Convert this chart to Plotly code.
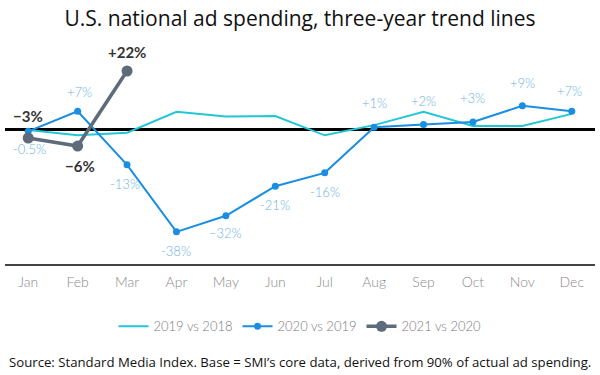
import plotly.graph_objects as go

months = ["Jan", "Feb", "Mar", "Apr", "May", "Jun", "Jul", "Aug", "Sep", "Oct", "Nov", "Dec"]
s2019 = [0, -2, -1, 6.8, 5, 5.2, -2, 1.8, 6.8, 1.5, 1.5, 6]
s2020 = [-0.5, 7, -13, -38, -32, -21, -16, 1, 2, 3, 9, 7]
s2021 = [-3, -6, 22]
labels2020 = ["-0.5%", "+7%", "-13%", "-38%", "−32%", "-21%", "-16%", "+1%", "+2%", "+3%", "+9%", "+7%"]
labels2021 = ["−3%", "−6%", "+22%"]

C19 = "#22c7d6"
C20 = "#1a8ee0"
C21 = "#5e6b7b"
LBL20 = "#6eb3e3"

fig = go.Figure()
fig.add_trace(go.Scatter(x=months, y=s2019, mode="lines", name="2019 vs 2018",
                         line=dict(color=C19, width=2)))
fig.add_trace(go.Scatter(x=months, y=s2020, mode="lines+markers", name="2020 vs 2019",
                         line=dict(color=C20, width=2), marker=dict(size=7, color=C20)))
fig.add_trace(go.Scatter(x=months[:3], y=s2021, mode="lines+markers", name="2021 vs 2020",
                         line=dict(color=C21, width=3.5), marker=dict(size=11, color=C21)))

# label offsets (dx, dy in px) for 2020 series
off20 = [(1, -18), (2, 19), (-2, -19), (0, -19), (0, -17), (0, -19), (0, -19), (0, 24), (0, 24), (0, 24), (0, 23), (-2, 20)]
for m, v, t, (dx, dy) in zip(months, s2020, labels2020, off20):
    fig.add_annotation(x=m, y=v, text=t, showarrow=False, xshift=dx, yshift=dy,
                       font=dict(family="Lato", size=13, color=LBL20, weight=300))

off21 = [(0, 22), (2, -20), (0, 19)]
for m, v, t, (dx, dy) in zip(months[:3], s2021, labels2021, off21):
    fig.add_annotation(x=m, y=v, text=t, showarrow=False, xshift=dx, yshift=dy,
                       font=dict(family="Lato", size=15, color="#333333", weight=700))

fig.add_annotation(xref="paper", yref="paper", x=0.5, y=-0.448, xanchor="center", yanchor="middle",
                   text="Source: Standard Media Index. Base = SMI’s core data, derived from 90% of actual ad spending.",
                   showarrow=False, font=dict(family="Open Sans", size=13.2, color="#111111"))

fig.update_layout(
    width=600, height=375,
    margin=dict(l=5, r=5, t=45, b=111, autoexpand=False),
    paper_bgcolor="white", plot_bgcolor="white",
    title=dict(text="U.S. national ad spending, three-year trend lines", x=0.5, xanchor="center",
               y=0.95, yanchor="middle", font=dict(family="Open Sans", size=21, color="#111111")),
    showlegend=True,
    legend=dict(orientation="h", x=0.5, xanchor="center", y=-0.285, yanchor="middle",
                font=dict(family="Lato", size=13, color="#7a7a7a", weight=300), itemwidth=30),
    xaxis=dict(type="category", range=[-0.47, 11.47], showgrid=False, showline=True,
               linecolor="#444444", linewidth=1.5, ticks="", ticklabelstandoff=4,
               tickfont=dict(family="Lato", size=14, color="#8a8a8a", weight=300)),
    yaxis=dict(range=[-50, 31.7], showgrid=False, showticklabels=False, zeroline=True,
               zerolinecolor="#000000", zerolinewidth=3),
    hovermode=False,
)

fig.write_html("out.html", config={"displayModeBar": False},
               post_script="document.body.style.margin='0';document.body.style.overflow='hidden';")
